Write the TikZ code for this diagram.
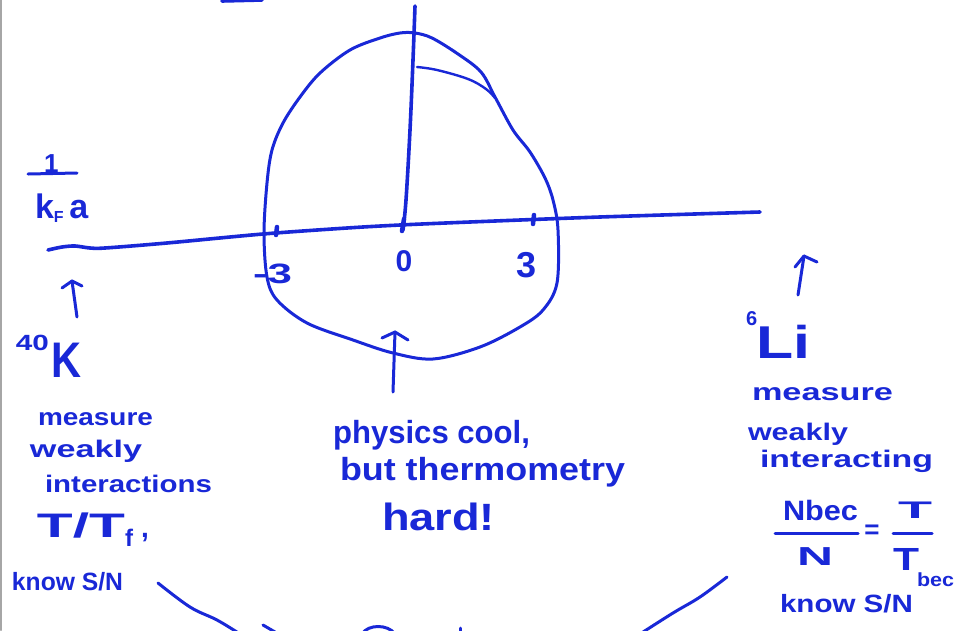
\documentclass[tikz,border=0pt]{standalone}
\usepackage{fontspec}
\setmainfont{Liberation Sans}
\usepackage{graphicx}
\definecolor{ink}{RGB}{25,40,215}
\newcommand\hw[3]{\fontsize{#1}{#1}\selectfont\resizebox{#2pt}{\height}{#3}}
\newcommand\fs[1]{\fontsize{#1}{#1}\selectfont}
\begin{document}
\begin{tikzpicture}[x=1pt,y=-1pt, line cap=round, line join=round,
  pen/.style={draw=ink, line width=3.6pt},
  thinpen/.style={draw=ink, line width=2.4pt},
  txt/.style={inner sep=0pt, outer sep=0pt, anchor=base west, text=ink, font=\bfseries},
  ctxt/.style={inner sep=0pt, outer sep=0pt, anchor=center, text=ink, font=\bfseries},
]
\useasboundingbox[fill=white] (0,0) rectangle (972,630);
\clip (0,0) rectangle (972,630);
% window border
\draw[gray!70, line width=2pt] (1,0) -- (1,630);
% cut-off stroke at top
\draw[pen] (222,1) -- (262,0);

% axes
\draw[pen] plot[smooth, tension=0.5] coordinates {(48,250) (62,247) (75,246) (90,248) (105,248) (167,243) (263,234) (347,228) (400,225) (470,222) (600,217) (760,212)};
\draw[pen] plot[smooth, tension=0.6] coordinates {(415,6) (413,60) (410,130) (406,200) (403,230)};
% ticks
\draw[pen, line width=4.5pt] (277,227) -- (276,235);
\draw[pen, line width=4.5pt] (404,219) -- (402,231);
\draw[pen, line width=4.5pt] (534,215) -- (533,224);

% droplet
\draw[pen, line width=3pt] plot[smooth cycle, tension=0.55] coordinates {(415,33) (432,38) (458,54) (481,72) (495,97) (513,130) (530,152) (545,178) (553,200) (558,230) (557,283) (543,310) (520,327) (480,347) (433,359) (393,353) (353,340) (307,323) (277,300) (267,277) (264,233) (267,183) (272,150) (283,123) (300,97) (320,73) (350,50) (380,38) (400,33)};
\draw[thinpen] plot[smooth, tension=0.6] coordinates {(417,67) (437,70) (468,79) (486,89) (495,98)};

% axis labels
\node[txt] (m3) at (253,283) {\hw{28}{39}{-3}};
\node[ctxt] (zero) at (404,261) {\fs{30}0};
\node[ctxt] (three) at (527,265) {\fs{36}3};

% 1/(kF a)
\node[txt] (one) at (44,172) {\fs{26}1};
\coordinate (ob1) at (28,174); \coordinate (ob2) at (77,173);
\draw[pen, line width=3pt] (ob1) -- (ob2);
\node[txt] (kfa) at (35,218) {\fs{34}k\raisebox{-4pt}{\fs{16}F}\,a};

% left arrow and 40K
\coordinate (la0) at (77,317); \coordinate (la1) at (72,281);
\coordinate (lh1) at (62,288); \coordinate (lh2) at (82,286);
\draw[pen, line width=3pt] (la0) -- (la1);
\draw[pen, line width=3pt] (lh1) -- (la1) -- (lh2);
\node[txt] (forty) at (16,350) {\hw{22}{33}{40}};
\node[txt] (K) at (52,377) {\hw{50}{30}{K}};

% left text
\node[txt] (meas1) at (38,425) {\hw{24}{115}{measure}};
\node[txt] (weak1) at (30,457) {\hw{24}{112}{weakly}};
\node[txt] (inter1) at (45,492) {\hw{24}{167}{interactions}};
\node[txt] (ttf) at (37,537) {\hw{34}{88}{T/T}\raisebox{-9pt}{\fs{24}f}\hspace{8pt}\fs{28},};
\node[txt] (know1) at (12,590) {\hw{25}{111}{know S/N}};

% center arrow and text
\coordinate (ca0) at (393,392); \coordinate (ca1) at (395,332);
\coordinate (ch1) at (382,338); \coordinate (ch2) at (408,340);
\draw[pen, line width=3pt] (ca0) -- (ca1);
\draw[pen, line width=3pt] (ch1) -- (ca1) -- (ch2);
\node[txt] (phys) at (333,443) {\hw{32}{197}{physics cool,}};
\node[txt] (but) at (340,480) {\hw{32}{285}{but thermometry}};
\node[txt] (hard) at (382,530) {\hw{38}{113}{hard!}};

% right arrow and 6Li
\coordinate (ra0) at (798,295); \coordinate (ra1) at (804,256);
\coordinate (rh1) at (795,267); \coordinate (rh2) at (817,262);
\draw[pen, line width=3pt] (ra0) -- (ra1);
\draw[pen, line width=3pt] (rh1) -- (ra1) -- (rh2);
\node[txt] (six) at (746,325) {\fs{20}6};
\node[txt] (Li) at (756,358) {\hw{46}{54}{Li}};

% right text
\node[txt] (meas2) at (752,400) {\hw{24}{141}{measure}};
\node[txt] (weak2) at (748,440) {\hw{24}{100}{weakly}};
\node[txt] (inter2) at (760,467) {\hw{24}{173}{interacting}};
\node[txt] (nbec) at (783,520) {\hw{28}{75}{Nbec}};
\coordinate (fb1) at (775,533); \coordinate (fb2) at (858,533);
\draw[pen, line width=3pt] (fb1) -- (fb2);
\node[txt] (nden) at (797,565) {\hw{26}{36}{N}};
\node[ctxt] (eq) at (872,532) {\fs{26}=};
\node[txt] (tnum) at (898,518) {\hw{24}{34}{T}};
\coordinate (gb1) at (893,533); \coordinate (gb2) at (932,533);
\draw[pen, line width=3pt] (gb1) -- (gb2);
\node[txt] (tden) at (893,570) {\hw{32}{26}{T}};
\node[txt] (bec) at (917,586) {\hw{19}{37}{bec}};
\node[txt] (know2) at (780,612) {\hw{25}{133}{know S/N}};

% bottom arcs and cut-off fragments
\draw[pen, line width=3pt] plot[smooth, tension=0.6] coordinates {(158,583) (190,607) (217,620) (240,634)};
\draw[pen, line width=3pt] plot[smooth, tension=0.6] coordinates {(727,577) (700,597) (673,613) (640,634)};
\draw[pen, line width=3pt] (263,625) -- (275,632);
\draw[pen, line width=3pt] (362,634) .. controls (368,624) and (388,624) .. (395,634);
\draw[pen, line width=3pt] (460,628) -- (460,634);
\end{tikzpicture}
\end{document}
